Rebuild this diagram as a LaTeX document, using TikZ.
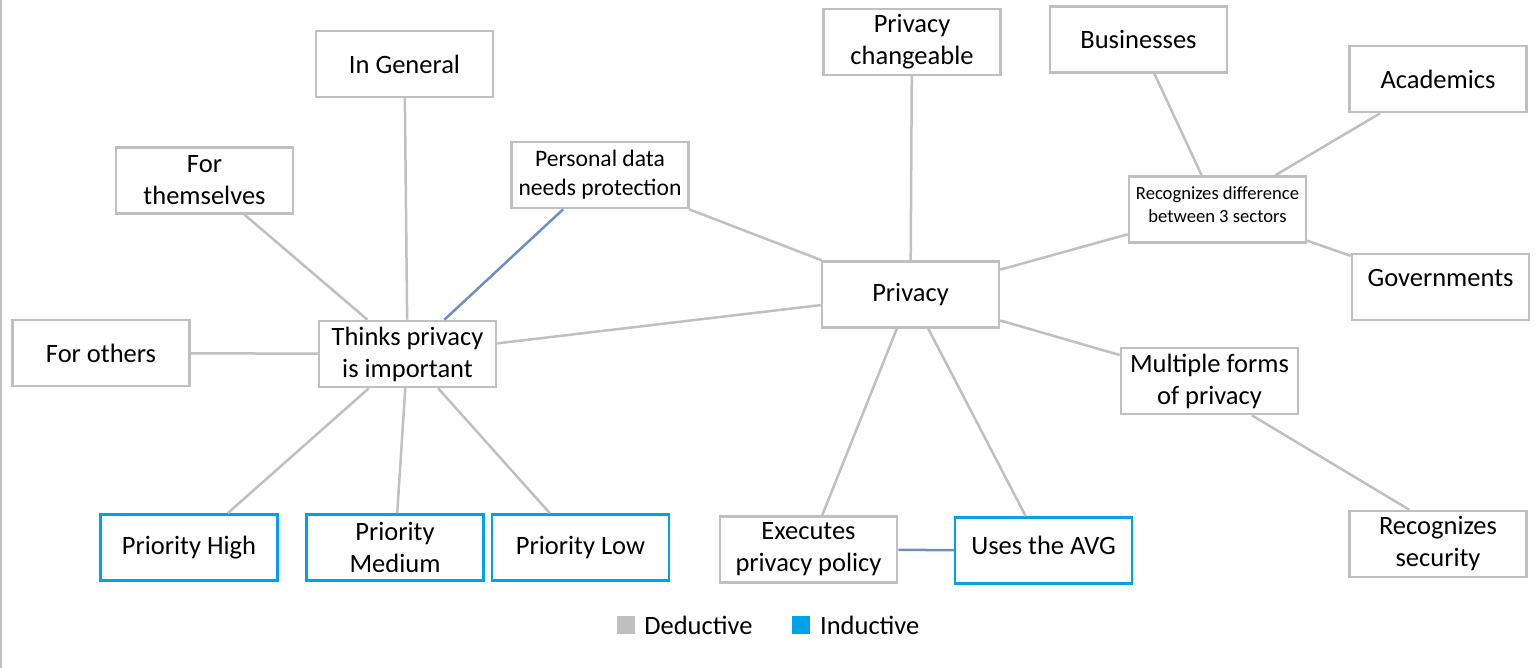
\documentclass[tikz,border=0pt]{standalone}
\usepackage{fontspec}
\setmainfont{Carlito}
\usetikzlibrary{positioning}
\definecolor{dedgray}{HTML}{C0C0C0}
\definecolor{indblue}{HTML}{00A2E8}
\definecolor{linkblue}{HTML}{6F8FC4}

\begin{document}
\begin{tikzpicture}[
    x=0.5pt, y=-0.5pt,
    box/.style={
        draw=dedgray,
        fill=white,
        line width=1.25pt,
        minimum width=88.5pt,
        minimum height=33pt,
        inner sep=2pt,
        align=center,
        font=\fontsize{13.25}{16}\selectfont
    },
    ind/.style={box, draw=indblue},
    medtext/.style={font=\fontsize{11.8}{14.5}\selectfont},
    smalltext/.style={font=\fontsize{9.3}{11.5}\selectfont},
    lnk/.style={draw=dedgray, line width=1.25pt},
    blnk/.style={draw=linkblue, line width=1.25pt},
    key/.style={minimum size=9pt, inner sep=0pt},
    keytext/.style={inner sep=0pt, font=\fontsize{13.25}{16}\selectfont}
]
    \useasboundingbox (0,0) rectangle (1539,668);
    \draw[dedgray, line width=1pt] (1,0) -- (1,668);

    \node[box] (think) at (407.5,354) {Thinks privacy\\is important};
    \node[box] (general) at (404.5,64) {In General};
    \node[box] (them) at (204.5,180.5) {For\\themselves};
    \node[box] (others) at (101,353) {For others};
    \node[box, medtext] (personal) at (600,175) {Personal data\\needs protection};
    \node[ind] (high) at (189,547.5) {Priority High};
    \node[ind] (medium) at (395,547.5) {Priority\\Medium};
    \node[ind] (low) at (580.5,547.5) {Priority Low};

    \node[box] (privacy) at (910.5,294.5) {Privacy};
    \node[box] (change) at (912,42) {Privacy\\changeable};
    \node[box] (business) at (1138.5,39.5) {Businesses};
    \node[box] (academic) at (1438,79) {Academics};
    \node[box, smalltext, text depth=5pt] (sectors) at (1217.5,209.5)
        {Recognizes difference\\between 3 sectors};
    \node[box, text depth=9pt] (govern) at (1440.5,287) {Governments};
    \node[box] (forms) at (1209.5,381) {Multiple forms\\of privacy};
    \node[box] (security) at (1438,544) {Recognizes\\security};
    \node[box] (policy) at (808.5,549.5) {Executes\\privacy policy};
    \node[ind, text depth=5.5pt] (avg) at (1043.5,550.5) {Uses the AVG};

    \draw[lnk] (general) -- (think);
    \draw[lnk] (them) -- (think);
    \draw[lnk] (others) -- (think);
    \draw[blnk] (think) -- (personal);
    \draw[lnk] (think) -- (privacy);
    \draw[lnk] (think) -- (high);
    \draw[lnk] (think) -- (medium);
    \draw[lnk] (think) -- (low);
    \draw[lnk] (personal) -- (privacy);
    \draw[lnk] (change) -- (privacy);
    \draw[lnk] (privacy) -- (policy);
    \draw[lnk] (privacy) -- (avg);
    \draw[lnk] (privacy) -- (sectors);
    \draw[lnk] (privacy) -- (forms);
    \draw[lnk] (sectors) -- (business);
    \draw[lnk] (sectors) -- (academic);
    \draw[lnk] (sectors) -- (govern);
    \draw[lnk] (forms.-39) -- (security.130);
    \draw[blnk] (policy) -- (avg);

    \node[key, fill=dedgray] (keyded) at (625.5,625) {};
    \node[keytext, right=4.5pt of keyded] (ded) {Deductive};
    \node[key, fill=indblue, right=19.5pt of ded] (keyind) {};
    \node[keytext, right=4.5pt of keyind] (indu) {Inductive};
\end{tikzpicture}
\end{document}
